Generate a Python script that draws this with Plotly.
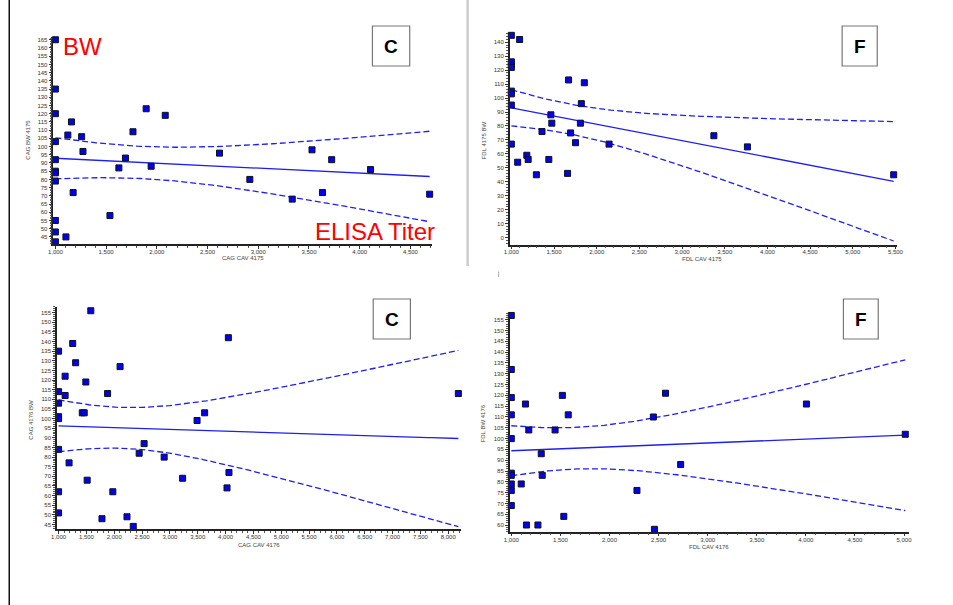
import numpy as np
import plotly.graph_objects as go

W, H = 953, 605

# ---------------- data ----------------
cag4175_cav = [1000, 1000, 1000, 1000, 1000, 1000, 1000, 1000, 1000, 1000, 1000,
               1104, 1123, 1159, 1175, 1259, 1272, 1538, 1626, 1691, 1765, 1895,
               1944, 2083, 2618, 2917, 3335, 3530, 3633, 3724, 4107, 4690]
cag4175_bw = [165, 135, 120, 103, 92, 85, 84, 79, 55, 48, 42,
              45, 107, 115, 72, 106, 97, 58, 87, 93, 109, 123,
              88, 119, 96, 80, 68, 98, 72, 92, 86, 71]

fdl4175_cav = [1000, 1000, 1000, 1000, 1000, 1000, 1000, 1000,
               1097, 1670, 1855, 1820, 1463, 1474, 1809, 1359, 1694, 1752, 2145,
               1181, 1197, 1439, 1074, 1293, 1659, 3373, 3766, 5480]
fdl4175_bw = [145, 126, 124, 122, 105, 103, 95, 67,
              142, 113, 111, 96, 88, 82, 82, 76, 75, 68, 67,
              59, 56, 56, 54, 45, 46, 73, 65, 45]

cag4176_cav = [1000, 1000, 1000, 1000, 1000, 1000, 1000, 1000,
               1118, 1118, 1189, 1254, 1307, 1426, 1461, 1490, 1514, 1579, 1780,
               1881, 1975, 2105, 2229, 2342, 2448, 2537, 2897, 3228, 3488, 3624,
               4026, 4050, 4061, 8181]
cag4176_bw = [135, 114, 108, 101, 100, 84, 62, 51,
              122, 112, 77, 139, 129, 103, 103, 119, 68, 156, 48,
              113, 62, 127, 49, 44, 82, 87, 80, 69, 99, 103,
              64, 142, 72, 113]

fdl4176_cav = [1000, 1000, 1000, 1000, 1000, 1000, 1000, 1000, 1000, 1000,
               1101, 1144, 1154, 1178, 1271, 1305, 1315, 1446, 1520, 1535, 1580,
               2280, 2447, 2458, 2571, 2725, 4006, 5013]
fdl4176_bw = [157, 132, 119, 111, 100, 84, 83, 79, 76, 69,
              79, 116, 60, 104, 60, 93, 83, 104, 120, 64, 111,
              76, 110, 58, 121, 88, 116, 102]

panel_letters = ["C", "F", "C", "F"]
x_titles = ["CAG CAV 4175", "FDL CAV 4175", "CAG CAV 4176", "FDL CAV 4176"]
y_titles = ["CAG BW 4175", "FDL 4175 BW", "CAG 4176 BW", "FDL BW 4176"]

# ---------------- layout geometry (pixels) ----------------
panels = [
    dict(x=cag4175_cav, y=cag4175_bw, px=(48, 431.7), py=(37.3, 244.3),
         xr=(980, 4711), yr=(40.5, 166.5), ydt=5, ymin=1,
         box=(371.5, 26, 409.3, 66), xt=(240, 258), yt=(22, 140)),
    dict(x=fdl4175_cav, y=fdl4175_bw, px=(510.7, 903), py=(31.7, 244.5),
         xr=(981, 5515), yr=(-5, 147.6), ydt=10, ymin=2,
         box=(847.7, 26, 883.3, 66), xt=(706, 259), yt=(485, 140)),
    dict(x=cag4176_cav, y=cag4176_bw, px=(51.7, 461.7), py=(306.7, 529.3),
         xr=(972, 8236), yr=(42.5, 158.1), ydt=5, ymin=1,
         box=(372.3, 299, 410, 339), xt=(256, 544.5), yt=(25, 420)),
    dict(x=fdl4176_cav, y=fdl4176_bw, px=(510.7, 915), py=(313.3, 531.7),
         xr=(984, 5046), yr=(56.9, 158), ydt=5, ymin=1,
         box=(849, 299, 884.3, 339), xt=(713, 546.5), yt=(484, 423)),
]


def fx(p):
    return p / W


def fy(p):
    return 1 - p / H


def tcrit(df):
    z = 1.959964
    return z + (z**3 + z) / (4 * df) + (5 * z**5 + 16 * z**3 + 3 * z) / (96 * df**2)


def fit_ci(x, y):
    x = np.asarray(x, float)
    y = np.asarray(y, float)
    n = len(x)
    xm, ym = x.mean(), y.mean()
    sxx = ((x - xm) ** 2).sum()
    b = ((x - xm) * (y - ym)).sum() / sxx
    a = ym - b * xm
    s = np.sqrt(((y - (a + b * x)) ** 2).sum() / (n - 2))
    xs = np.linspace(x.min(), x.max(), 120)
    yhat = a + b * xs
    se = s * np.sqrt(1 / n + (xs - xm) ** 2 / sxx)
    t = tcrit(n - 2)
    return xs, yhat, yhat - t * se, yhat + t * se


fig = go.Figure()
shapes = []
annotations = []
tick_font = dict(family="Liberation Sans, Arial, sans-serif", size=6, color="#333333")
title_font = dict(family="Liberation Sans, Arial, sans-serif", size=6, color="#444444")
blue_line = "#1f1fee"

for i, p in enumerate(panels, start=1):
    xa = "x" if i == 1 else f"x{i}"
    ya = "y" if i == 1 else f"y{i}"
    xs, yhat, lo, hi = fit_ci(p["x"], p["y"])
    fig.add_trace(go.Scatter(x=xs, y=hi, mode="lines", xaxis=xa, yaxis=ya,
                             line=dict(color=blue_line, width=1.3, dash="6px,3px"),
                             showlegend=False, hoverinfo="skip"))
    fig.add_trace(go.Scatter(x=xs, y=lo, mode="lines", xaxis=xa, yaxis=ya,
                             line=dict(color=blue_line, width=1.3, dash="6px,3px"),
                             showlegend=False, hoverinfo="skip"))
    fig.add_trace(go.Scatter(x=xs, y=yhat, mode="lines", xaxis=xa, yaxis=ya,
                             line=dict(color=blue_line, width=1.3),
                             showlegend=False, hoverinfo="skip"))
    fig.add_trace(go.Scatter(x=p["x"], y=p["y"], mode="markers", xaxis=xa, yaxis=ya,
                             marker=dict(symbol="square", size=6, color="#0000ee",
                                         line=dict(color="#111111", width=1)),
                             showlegend=False, cliponaxis=False))

    xkey = "xaxis" if i == 1 else f"xaxis{i}"
    ykey = "yaxis" if i == 1 else f"yaxis{i}"
    fig.update_layout(**{
        xkey: dict(domain=[fx(p["px"][0]), fx(p["px"][1])], range=list(p["xr"]),
                   anchor=ya, showgrid=False, zeroline=False, showline=True,
                   linecolor="#222222", linewidth=1.5, ticks="outside", ticklen=3,
                   tickwidth=1, tickcolor="#333333", dtick=500, tick0=0,
                   tickformat=",", tickangle=0, tickfont=tick_font,
                   ticklabelstandoff=-2,
                   minor=dict(dtick=100, ticks="outside", ticklen=2, tickcolor="#555555",
                              showgrid=False)),
        ykey: dict(domain=[fy(p["py"][1]), fy(p["py"][0])], range=list(p["yr"]),
                   anchor=xa, showgrid=False, zeroline=False, showline=True,
                   linecolor="#222222", linewidth=1.5, ticks="outside", ticklen=3,
                   tickwidth=1, tickcolor="#333333", dtick=p["ydt"], tick0=0,
                   tickfont=tick_font,
                   minor=dict(dtick=p["ymin"], ticks="outside", ticklen=2,
                              tickcolor="#555555", showgrid=False)),
    })

    bx0, by0, bx1, by1 = p["box"]
    shapes.append(dict(type="rect", xref="paper", yref="paper",
                       x0=fx(bx0), x1=fx(bx1), y0=fy(by1), y1=fy(by0),
                       line=dict(color="#777777", width=1.2), fillcolor="white"))
    annotations.append(dict(text=f"<b>{panel_letters[i-1]}</b>", xref="paper", yref="paper",
                            x=fx((bx0 + bx1) / 2), y=fy((by0 + by1) / 2),
                            xanchor="center", yanchor="middle", showarrow=False,
                            font=dict(family="Liberation Sans, Arial, sans-serif",
                                      size=19, color="black")))
    annotations.append(dict(text=x_titles[i-1], xref="paper", yref="paper",
                            x=fx(p["xt"][0]), y=fy(p["xt"][1]), xanchor="center",
                            yanchor="middle", showarrow=False, font=title_font))
    annotations.append(dict(text=y_titles[i-1], xref="paper", yref="paper",
                            x=fx(p["yt"][0]), y=fy(p["yt"][1]), xanchor="center",
                            yanchor="middle", showarrow=False, textangle=-90,
                            font=title_font))

# red labels
annotations.append(dict(text="BW", xref="paper", yref="paper", x=fx(78), y=fy(46),
                        xanchor="center", yanchor="middle", showarrow=False,
                        font=dict(family="Liberation Sans, Arial, sans-serif",
                                  size=24, color="#ff0000")))
annotations.append(dict(text="ELISA Titer", xref="paper", yref="paper", x=fx(374),
                        y=fy(231.5), xanchor="center", yanchor="middle", showarrow=False,
                        font=dict(family="Liberation Sans, Arial, sans-serif",
                                  size=24, color="#ff0000")))

# page decorations
shapes.append(dict(type="line", xref="paper", yref="paper", x0=fx(3.3), x1=fx(3.3),
                   y0=0, y1=1, line=dict(color="#111111", width=1.5)))
shapes.append(dict(type="line", xref="paper", yref="paper", x0=fx(468), x1=fx(468),
                   y0=fy(266), y1=1, line=dict(color="#cccccc", width=2.5)))
shapes.append(dict(type="line", xref="paper", yref="paper", x0=fx(499.5), x1=fx(499.5),
                   y0=fy(277), y1=fy(271.5), line=dict(color="#aaaaaa", width=1)))

fig.update_layout(width=W, height=H, margin=dict(l=0, r=0, t=0, b=0),
                  paper_bgcolor="white", plot_bgcolor="rgba(0,0,0,0)",
                  shapes=shapes, annotations=annotations, showlegend=False,
                  separators=".,")

fig.write_html("out.html", config={"displayModeBar": False},
               post_script="document.body.style.margin='0';document.body.style.overflow='hidden';")
